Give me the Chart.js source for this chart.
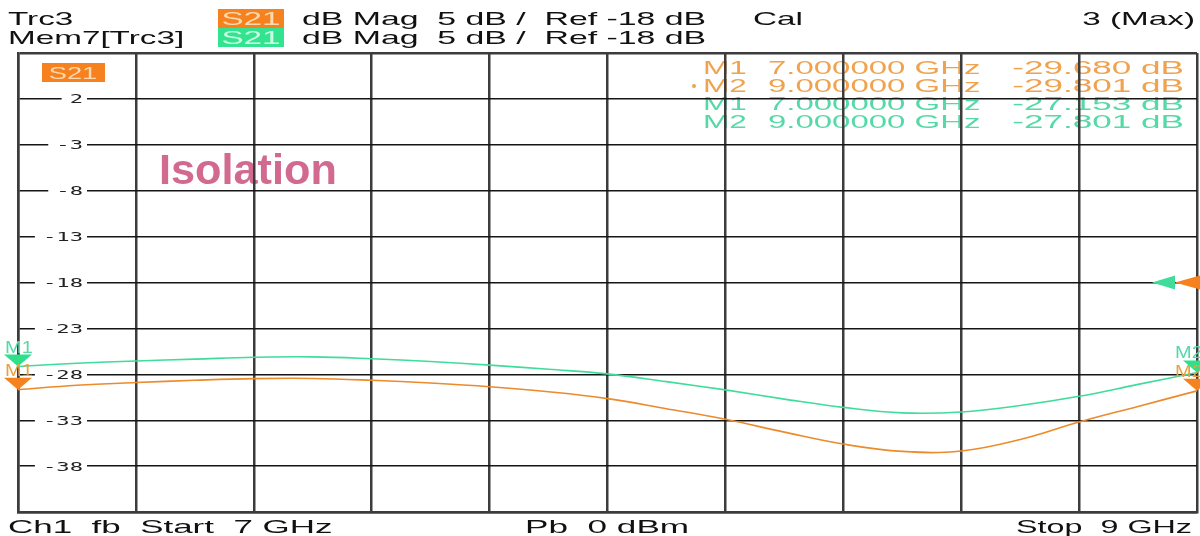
<!DOCTYPE html>
<html lang="en">
<head>
<meta charset="UTF-8">
<title>S21 Isolation</title>
<script src="https://cdn.jsdelivr.net/npm/chart.js"></script>
<style>
  html, body { margin: 0; padding: 0; background: #fff; }
  canvas { display: block; }
</style>
</head>
<body>
<canvas id="vna" width="1200" height="536"></canvas>
<script>
// sweep points (GHz) and trace values (dB)
const freqGHz   = [7.0, 7.1, 7.2, 7.3, 7.4, 7.5, 7.6, 7.7, 7.8, 7.9, 8.0, 8.1, 8.2, 8.3, 8.4, 8.5, 8.6, 8.7, 8.8, 8.9, 9.0];
const s21Trace  = [-29.68, -29.2, -28.9, -28.65, -28.47, -28.45, -28.65, -28.95, -29.35, -29.9, -30.65, -31.75, -32.9, -34.3, -35.6, -36.4, -36.35, -35.1, -33.2, -31.5, -29.8];
const s21Memory = [-27.15, -26.8, -26.55, -26.35, -26.15, -26.1, -26.3, -26.6, -27.0, -27.45, -27.95, -28.8, -29.7, -30.7, -31.6, -32.2, -32.1, -31.4, -30.4, -29.1, -27.8];

const yTicks = [2, -3, -8, -13, -18, -23, -28, -33, -38];
const refLevel = -18;

// marker table
const markerNames  = ['M1', 'M2'];
const markerFreq   = [7, 9];
const markerTrace  = [-29.680, -29.801];
const markerMemory = [-27.153, -27.801];

const ORANGE = '#ec8a2c';
const GREEN = '#3fdc9c';
const ORANGE_TXT = '#f0a24e';
const GREEN_TXT = '#55d9a8';

function stretchText(ctx, str, x, y, o) {
    const size = o.size || 19, sx = o.sx || 1.75, align = o.align || 'left';
    ctx.save();
    ctx.font = (o.weight || '') + ' ' + size + 'px ' + (o.family || '"Liberation Sans", Arial, sans-serif');
    ctx.fillStyle = o.color || '#111';
    ctx.textBaseline = 'alphabetic';
    ctx.textAlign = 'left';
    const w = ctx.measureText(str).width * sx;
    let left = x;
    if (align === 'right') left = x - w;
    else if (align === 'center') left = x - w / 2;
    ctx.translate(left, y);
    ctx.scale(sx, 1);
    ctx.fillText(str, 0, 0);
    ctx.restore();
    return w;
}

function fmtFreq(f) { return f.toFixed(6) + ' GHz'; }
function fmtDb(v) { return v.toFixed(3) + ' dB'; }

const vnaScreen = {
    id: 'vnaScreen',
    beforeDraw(chart) {
        const ctx = chart.ctx;
        ctx.save();
        ctx.fillStyle = '#fff';
        ctx.fillRect(0, 0, chart.width, chart.height);
        ctx.restore();

        // marker table (grid is drawn over it)
        const rows = [];
        markerNames.forEach((n, i) => rows.push({ n, f: markerFreq[i], v: markerTrace[i], c: ORANGE_TXT, active: i === 1 }));
        markerNames.forEach((n, i) => rows.push({ n, f: markerFreq[i], v: markerMemory[i], c: GREEN_TXT, active: false }));
        rows.forEach((r, k) => {
            const y = 74 + k * 18;
            if (r.active) {
                ctx.save();
                ctx.fillStyle = r.c;
                ctx.beginPath();
                ctx.arc(694, y - 6, 2, 0, Math.PI * 2);
                ctx.fill();
                ctx.restore();
            }
            stretchText(ctx, r.n, 703, y, { size: 18, sx: 1.75, color: r.c });
            stretchText(ctx, fmtFreq(r.f), 768, y, { size: 18, sx: 1.83, color: r.c });
            stretchText(ctx, fmtDb(r.v), 1184, y, { size: 18, sx: 1.95, color: r.c, align: 'right' });
        });

        // S21 label box inside the grid
        ctx.save();
        ctx.fillStyle = '#f5821e';
        ctx.fillRect(42, 63, 63, 19);
        ctx.restore();
        stretchText(ctx, 'S21', 73, 79, { size: 17, sx: 1.6, color: '#ffd7ad', align: 'center' });

        // annotation
        stretchText(ctx, 'Isolation', 159, 184, { size: 42, sx: 1.03, weight: 'bold', color: '#d2698f' });
    },
    beforeDatasetsDraw(chart) {
        const ctx = chart.ctx;
        const y = chart.scales.y;
        yTicks.forEach(v => {
            const py = y.getPixelForValue(v);
            const label = String(v);
            ctx.save();
            ctx.font = '12px "DejaVu Sans Mono", monospace';
            const w = ctx.measureText(label).width * 1.85;
            ctx.fillStyle = '#fff';
            ctx.fillRect(83 - w - 8, py - 7, w + 12, 14);
            ctx.restore();
            stretchText(ctx, label, 83, py + 4.5, { size: 12, sx: 1.85, family: '"DejaVu Sans Mono", monospace', color: '#222', align: 'right' });
        });
    },
    afterDraw(chart) {
        const ctx = chart.ctx;
        const x = chart.scales.x, y = chart.scales.y;

        // header lines
        stretchText(ctx, 'Trc3', 8, 25, {});
        stretchText(ctx, 'Mem7[Trc3]', 8, 44, {});
        ctx.save();
        ctx.fillStyle = '#f5821e';
        ctx.fillRect(218, 9, 66, 19);
        ctx.fillStyle = '#34e38f';
        ctx.fillRect(218, 28, 66, 19);
        ctx.restore();
        stretchText(ctx, 'S21', 251, 25, { color: '#ffd9b0', align: 'center' });
        stretchText(ctx, 'S21', 251, 44, { color: '#c9ffe5', align: 'center' });
        stretchText(ctx, 'dB Mag  5 dB /  Ref -18 dB', 302, 25, { sx: 1.78 });
        stretchText(ctx, 'dB Mag  5 dB /  Ref -18 dB', 302, 44, { sx: 1.78 });
        stretchText(ctx, 'Cal', 753, 25, {});
        stretchText(ctx, '3 (Max)', 1195, 25, { align: 'right' });

        // footer
        stretchText(ctx, 'Ch1  fb  Start  7 GHz', 8, 533, { sx: 1.84 });
        stretchText(ctx, 'Pb  0 dBm', 525, 533, { sx: 1.85 });
        stretchText(ctx, 'Stop  9 GHz', 1192, 533, { sx: 1.7, align: 'right' });

        // reference level arrows on the right edge
        const ry = y.getPixelForValue(refLevel);
        const tri = (tipX, baseX, c) => {
            ctx.save();
            ctx.fillStyle = c;
            ctx.beginPath();
            ctx.moveTo(tipX, ry);
            ctx.lineTo(baseX, ry - 7);
            ctx.lineTo(baseX, ry + 7);
            ctx.closePath();
            ctx.fill();
            ctx.restore();
        };
        tri(1152, 1175, GREEN);
        tri(1175, 1200, '#f5821e');

        // marker triangles
        const drawMarkers = (vals, c, fill) => {
            vals.forEach((v, i) => {
                const px = x.getPixelForValue(markerFreq[i]);
                const py = y.getPixelForValue(v);
                ctx.save();
                ctx.fillStyle = fill;
                ctx.beginPath();
                ctx.moveTo(px, py);
                ctx.lineTo(px - 14, py - 12);
                ctx.lineTo(px + 14, py - 12);
                ctx.closePath();
                ctx.fill();
                ctx.restore();
                const lx = i === 0 ? px - 13 : px - 22;
                stretchText(ctx, markerNames[i], lx, py - 14, { size: 16, sx: 1.25, color: c });
            });
        };
        drawMarkers(markerMemory, GREEN_TXT, '#2ee08a');
        drawMarkers(markerTrace, '#e8a040', '#f5821e');
    }
};

new Chart(document.getElementById('vna'), {
    type: 'line',
    data: {
        datasets: [
            {
                label: 'Mem7[Trc3] S21',
                data: freqGHz.map((f, i) => ({ x: f, y: s21Memory[i] })),
                borderColor: GREEN,
                borderWidth: 1.6,
                pointRadius: 0,
                tension: 0.4
            },
            {
                label: 'Trc3 S21',
                data: freqGHz.map((f, i) => ({ x: f, y: s21Trace[i] })),
                borderColor: ORANGE,
                borderWidth: 1.6,
                pointRadius: 0,
                tension: 0.4
            }
        ]
    },
    options: {
        responsive: false,
        animation: false,
        layout: { padding: { left: 18, right: 3, top: 53, bottom: 24 } },
        plugins: {
            legend: { display: false },
            tooltip: { enabled: false }
        },
        scales: {
            x: {
                type: 'linear',
                min: 7,
                max: 9,
                ticks: { stepSize: 0.2, display: false },
                grid: { color: '#3c3c3c', lineWidth: 2.5, drawTicks: false },
                border: { color: '#3c3c3c', width: 2.5 }
            },
            y: {
                min: -43,
                max: 7,
                ticks: { stepSize: 5, display: false },
                grid: {
                    color: c => (c.tick && (c.tick.value === 7 || c.tick.value === -43)) ? '#3c3c3c' : '#151515',
                    lineWidth: c => (c.tick && (c.tick.value === 7 || c.tick.value === -43)) ? 2.5 : 1.4,
                    drawTicks: false
                },
                border: { color: '#3c3c3c', width: 2.5 }
            }
        }
    },
    plugins: [vnaScreen]
});
</script>
</body>
</html>
